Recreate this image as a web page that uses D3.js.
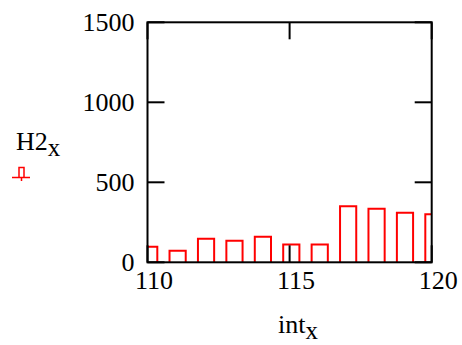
<!DOCTYPE html>
<html>
<head>
<meta charset="utf-8">
<script src="https://cdn.jsdelivr.net/npm/d3@7"></script>
<style>
  body { margin: 0; background: #fff; }
  text { font-family: "Liberation Serif", "Times New Roman", serif; fill: #000; }
</style>
</head>
<body>
<div id="chart"></div>
<script>
// data
const intX = [110, 111, 112, 113, 114, 115, 116, 117, 118, 119, 120];
const h2 = [97, 72, 147, 135, 160, 112, 112, 350, 335, 310, 300];
const xTicks = [110, 115, 120];
const yTicks = [0, 500, 1000, 1500];

const W = 462, H = 345;
const plot = { left: 147.5, right: 431.7, top: 22.3, bottom: 262.3 };

const svg = d3.select("#chart").append("svg")
    .attr("width", W)
    .attr("height", H);

const x = d3.scaleLinear().domain([110, 120]).range([plot.left, plot.right]);
const y = d3.scaleLinear().domain([0, 1500]).range([plot.bottom, plot.top]);

svg.append("clipPath").attr("id", "clip")
  .append("rect")
    .attr("x", plot.left).attr("y", plot.top)
    .attr("width", plot.right - plot.left)
    .attr("height", plot.bottom - plot.top);

// bars (outlined)
svg.append("g")
    .attr("clip-path", "url(#clip)")
  .selectAll("path")
  .data(intX)
  .enter().append("path")
    .attr("d", (d, i) => {
        const x0 = x(d - 0.225), x1 = x(d + 0.345), y0 = y(0), y1 = y(h2[i]);
        return `M${x0},${y0}V${y1}H${x1}V${y0}`;
    })
    .attr("fill", "none")
    .attr("stroke", "#ff0000")
    .attr("stroke-width", 2);

// inner ticks on all four sides
const tickLen = 17;
const ticks = svg.append("g").attr("stroke", "#000").attr("stroke-width", 2);
yTicks.forEach(v => {
    ticks.append("line").attr("x1", plot.left).attr("x2", plot.left + tickLen).attr("y1", y(v)).attr("y2", y(v));
    ticks.append("line").attr("x1", plot.right).attr("x2", plot.right - tickLen).attr("y1", y(v)).attr("y2", y(v));
});
xTicks.forEach(v => {
    ticks.append("line").attr("x1", x(v)).attr("x2", x(v)).attr("y1", plot.bottom).attr("y2", plot.bottom - tickLen);
    ticks.append("line").attr("x1", x(v)).attr("x2", x(v)).attr("y1", plot.top).attr("y2", plot.top + tickLen);
});

// frame
svg.append("rect")
    .attr("x", plot.left).attr("y", plot.top)
    .attr("width", plot.right - plot.left)
    .attr("height", plot.bottom - plot.top)
    .attr("fill", "none")
    .attr("stroke", "#000")
    .attr("stroke-width", 2);

// tick labels
svg.append("g").selectAll("text")
  .data(yTicks)
  .enter().append("text")
    .attr("x", plot.left - 13)
    .attr("y", d => y(d))
    .attr("dy", "0.32em")
    .attr("text-anchor", "end")
    .style("font-size", "26px")
    .text(d => d);

svg.append("g").selectAll("text")
  .data(xTicks)
  .enter().append("text")
    .attr("x", d => x(d) + 6.5)
    .attr("y", plot.bottom + 27)
    .attr("text-anchor", "middle")
    .style("font-size", "26px")
    .text(d => d);

// axis titles
const xt = svg.append("text")
    .attr("x", 278)
    .attr("y", 333)
    .style("font-size", "26px");
xt.append("tspan").text("int");
xt.append("tspan").attr("dy", 6).style("font-size", "25px").text("x");

const yt = svg.append("text")
    .attr("x", 16)
    .attr("y", 150)
    .style("font-size", "26px");
yt.append("tspan").text("H2");
yt.append("tspan").attr("dy", 6).style("font-size", "25px").text("x");

// legend symbol
svg.append("path")
    .attr("d", "M12,177.5H30M19,177.5V167.5H24V177.5M21.5,177.5V181")
    .attr("fill", "none")
    .attr("stroke", "#ff0000")
    .attr("stroke-width", 1.5);
</script>
</body>
</html>
